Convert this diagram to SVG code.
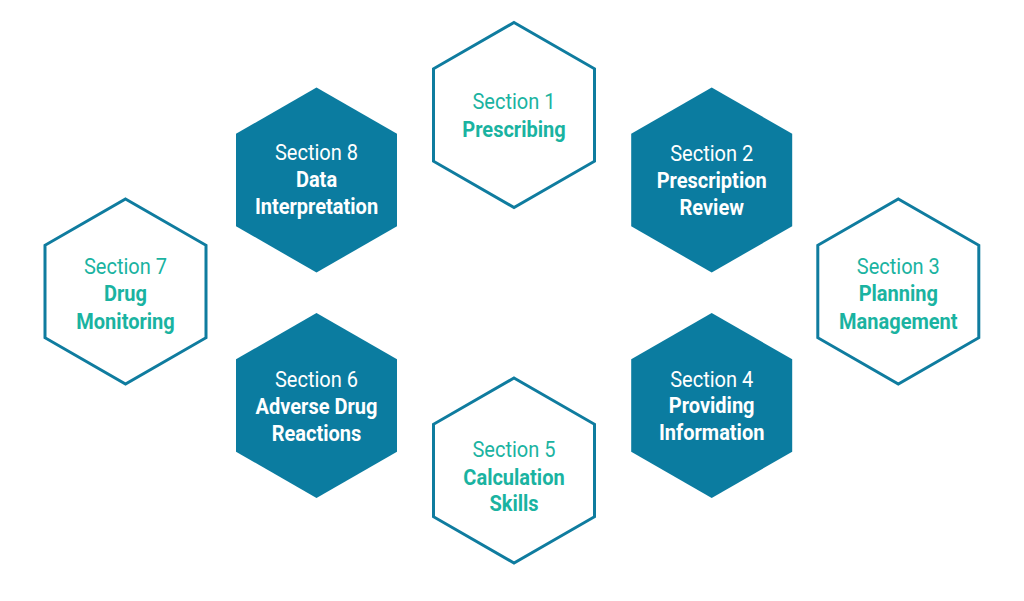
<svg xmlns="http://www.w3.org/2000/svg" xmlns:xlink="http://www.w3.org/1999/xlink" width="1024" height="601" viewBox="0 0 1024 601">
<style>
.bg{fill:#ffffff}
.hf{fill:#0b7ca0}
.ho{fill:#ffffff;stroke:#0f7c9f;stroke-width:3;stroke-linejoin:miter}
text{font-family:Roboto,"Liberation Sans",sans-serif;font-size:22px;text-anchor:middle}
.r{font-weight:400}
.b{font-weight:700}
.w{fill:#ffffff}
.t{fill:#1ab3a1}
</style>
<defs>
<path id="hex" d="M0,-92.5 L80.5,-46.25 L80.5,46.25 L0,92.5 L-80.5,46.25 L-80.5,-46.25Z"/>
</defs>
<rect class="bg" x="0" y="0" width="1024" height="601"/>
<g id="connectors"></g>
<g id="node-s1">
<use xlink:href="#hex" class="ho" transform="translate(514,115)"/>
<g transform="translate(514,0) scale(0.91,1)">
<text class="r t" x="0" y="109">Section 1</text>
<text class="b t" x="0" y="137.5">Prescribing</text>
</g>
</g>
<g id="node-s2">
<use xlink:href="#hex" class="hf" transform="translate(711.7,180)"/>
<g transform="translate(711.7,0) scale(0.91,1)">
<text class="r w" x="0" y="161">Section 2</text>
<text class="b w" x="0" y="188.5">Prescription</text>
<text class="b w" x="0" y="215">Review</text>
</g>
</g>
<g id="node-s3">
<use xlink:href="#hex" class="ho" transform="translate(898.3,291.5)"/>
<g transform="translate(898.3,0) scale(0.91,1)">
<text class="r t" x="0" y="274.5">Section 3</text>
<text class="b t" x="0" y="301.5">Planning</text>
<text class="b t" x="0" y="329">Management</text>
</g>
</g>
<g id="node-s4">
<use xlink:href="#hex" class="hf" transform="translate(711.7,405.5)"/>
<g transform="translate(711.7,0) scale(0.91,1)">
<text class="r w" x="0" y="387.5">Section 4</text>
<text class="b w" x="0" y="413.5">Providing</text>
<text class="b w" x="0" y="440.5">Information</text>
</g>
</g>
<g id="node-s5">
<use xlink:href="#hex" class="ho" transform="translate(514,470.5)"/>
<g transform="translate(514,0) scale(0.91,1)">
<text class="r t" x="0" y="457.5">Section 5</text>
<text class="b t" x="0" y="485">Calculation</text>
<text class="b t" x="0" y="511.5">Skills</text>
</g>
</g>
<g id="node-s6">
<use xlink:href="#hex" class="hf" transform="translate(316.5,405.5)"/>
<g transform="translate(316.5,0) scale(0.91,1)">
<text class="r w" x="0" y="387.5">Section 6</text>
<text class="b w" x="0" y="414.5">Adverse Drug</text>
<text class="b w" x="0" y="441">Reactions</text>
</g>
</g>
<g id="node-s7">
<use xlink:href="#hex" class="ho" transform="translate(125.5,291.5)"/>
<g transform="translate(125.5,0) scale(0.91,1)">
<text class="r t" x="0" y="274.5">Section 7</text>
<text class="b t" x="0" y="301.5">Drug</text>
<text class="b t" x="0" y="329">Monitoring</text>
</g>
</g>
<g id="node-s8">
<use xlink:href="#hex" class="hf" transform="translate(316.5,180)"/>
<g transform="translate(316.5,0) scale(0.91,1)">
<text class="r w" x="0" y="160">Section 8</text>
<text class="b w" x="0" y="187.5">Data</text>
<text class="b w" x="0" y="214.5">Interpretation</text>
</g>
</g>
</svg>
